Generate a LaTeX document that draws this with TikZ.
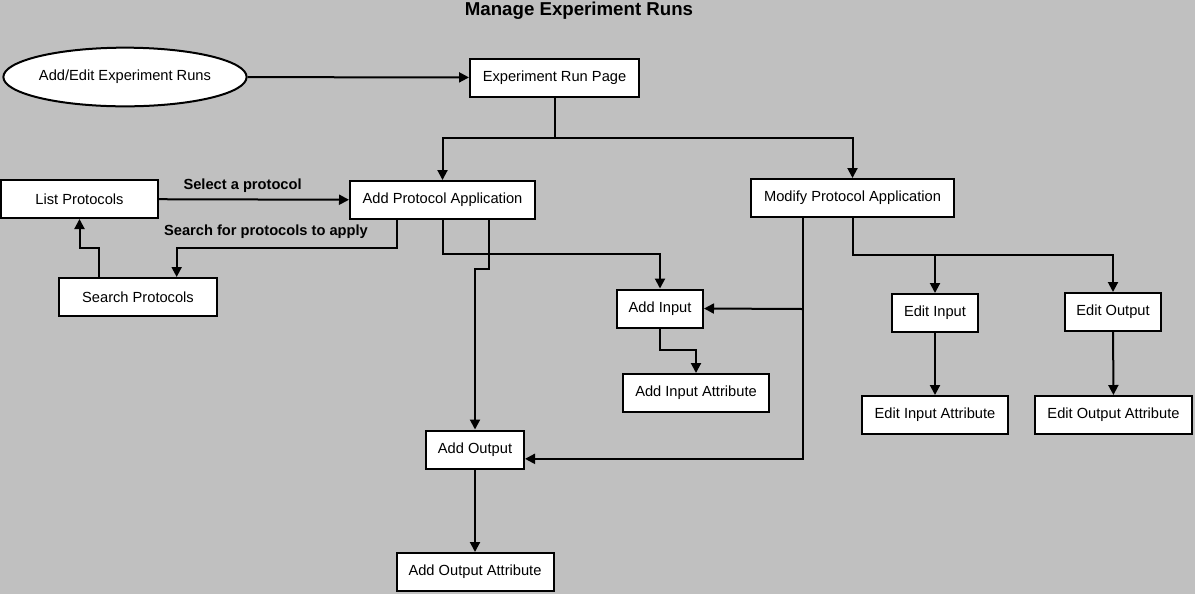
\documentclass[tikz,border=0pt]{standalone}
\usepackage{fontspec}
\setmainfont{Liberation Sans}
\usetikzlibrary{arrows.meta,shapes.geometric}
\definecolor{canvas}{RGB}{192,192,192}
\begin{document}
\begin{tikzpicture}[x=0.75pt,y=-0.75pt,
    box/.style={rectangle, draw, fill=white, line width=1.5pt, minimum height=28.5pt, inner sep=2pt, font=\fontsize{11}{13}\selectfont},
    arr/.style={-{Triangle[length=7.5pt,width=7.5pt]}, line width=1.5pt},
    lbl/.style={font=\fontsize{11}{13}\selectfont\bfseries}]
    % Background
    \fill[canvas] (0,0) rectangle (1195,594);
    \useasboundingbox (0,0) rectangle (1195,594);

    % Title
    \node[font=\fontsize{14}{16}\selectfont\bfseries] (title) at (579,11) {Manage Experiment Runs};

    % Pages
    \node[ellipse, draw, fill=white, line width=1.5pt, inner sep=0pt, minimum width=181pt, minimum height=44pt, font=\fontsize{11}{13}\selectfont] (runs) at (125,77) {Add/Edit Experiment Runs};
    \node[box, minimum width=126.75pt] (erp) at (554.5,77.5) {Experiment Run Page};
    \node[box, minimum width=117.75pt] (list) at (79.5,199) {List Protocols};
    \node[box, minimum width=138.75pt] (apa) at (442.5,200) {Add Protocol Application};
    \node[box, minimum width=118.5pt] (search) at (138,297) {Search Protocols};
    \node[box, minimum width=152.25pt] (mpa) at (852.5,198) {Modify Protocol Application};
    \node[box, minimum width=64.5pt] (addin) at (660,308.5) {Add Input};
    \node[box, minimum width=109.5pt] (inattr) at (696,393) {Add Input Attribute};
    \node[box, minimum width=73.5pt] (addout) at (475,449.5) {Add Output};
    \node[box, minimum width=117.75pt] (outattr) at (475,572) {Add Output Attribute};
    \node[box, minimum width=64pt] (editin) at (935,313) {Edit Input};
    \node[box, minimum width=72pt] (editout) at (1113,312) {Edit Output};
    \node[box, minimum width=109.5pt] (einattr) at (935,415) {Edit Input Attribute};
    \node[box, minimum width=117.75pt] (eoutattr) at (1113.5,415) {Edit Output Attribute};

    % Bend points
    \coordinate (runsplit) at (554,138);
    \coordinate (findbend) at (300,248);
    \coordinate (backbend) at (90,248);
    \coordinate (inbend) at (550,254);
    \coordinate (outbend) at (480,269);
    \coordinate (attrbend) at (680,350);
    \coordinate (mpain) at (803,309);
    \coordinate (editbend) at (1000,255);
    \coordinate (editsplit) at (935,255);

    % Connectors
    \draw[arr] (runs) -- (erp);
    \draw[arr] (erp.south) |- (runsplit) -| (apa.north);
    \draw[arr] (runsplit) -| (mpa.north);
    \draw[arr] (list) -- (apa) node[lbl, pos=0.44, above=1pt] {Select a protocol};
    \draw[arr] ([xshift=-34pt]apa.south) |- (findbend) -| ([xshift=29pt]search.north);
    \node[lbl] (findlbl) at (266,232) {Search for protocols to apply};
    \draw[arr] ([xshift=-29pt]search.north) |- (backbend) -| (list.south);
    \draw[arr] (apa.south) |- (inbend) -| (addin.north);
    \draw[arr] ([xshift=35pt]apa.south) |- (outbend) -| (addout.north);
    \draw[arr] (addin.south) |- (attrbend) -| (inattr.north);
    \draw[arr] (addout) -- (outattr);
    \draw[arr] ([xshift=-37pt]mpa.south) |- ([yshift=-7pt]addout.east);
    \draw[arr] (mpain) -- (addin.east);
    \draw[arr] (mpa.south) |- (editbend) -| (editout.north);
    \draw[arr] (editsplit) -- (editin.north);
    \draw[arr] (editin) -- (einattr);
    \draw[arr] (editout) -- (eoutattr);
\end{tikzpicture}
\end{document}
